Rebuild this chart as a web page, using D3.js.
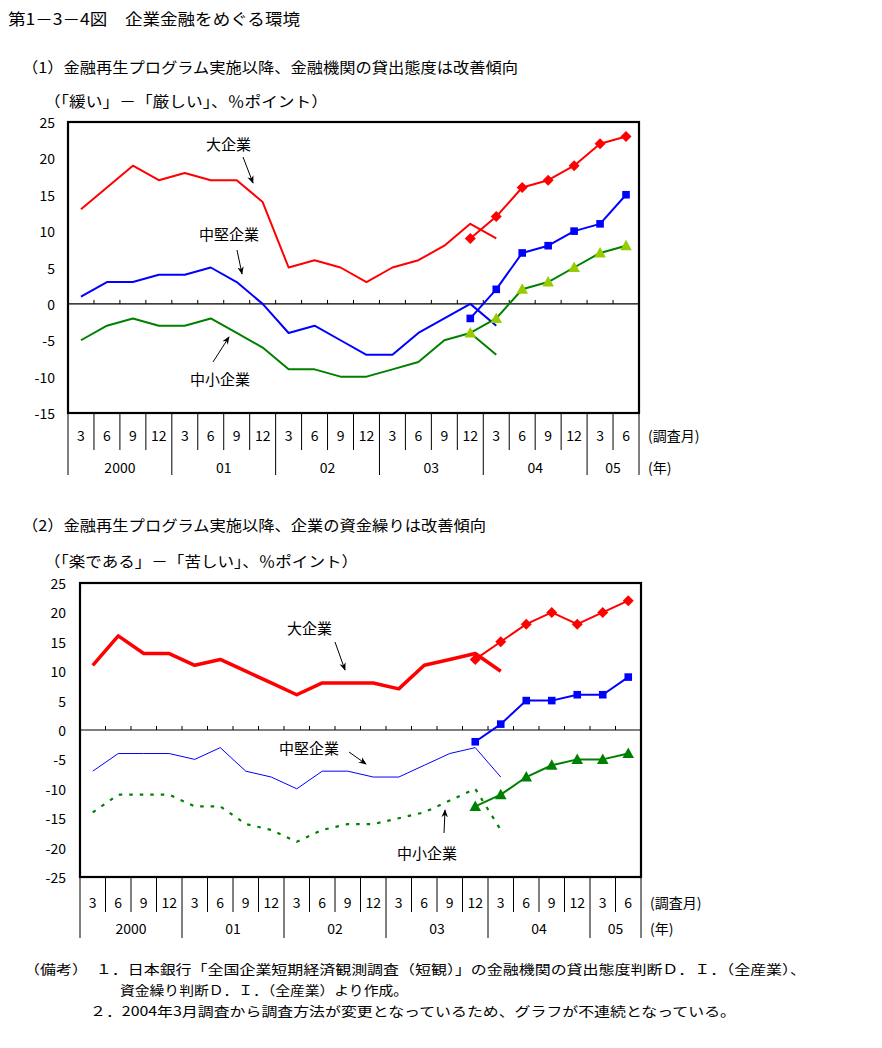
<!DOCTYPE html>
<html><head><meta charset="utf-8">
<script src="https://cdn.jsdelivr.net/npm/d3@7"></script>
<style>body{margin:0;background:#fff}</style>
</head><body>
<svg id="c" width="882" height="1048"></svg>
<script>
// ---------- data ----------
const months = ["3","6","9","12","3","6","9","12","3","6","9","12","3","6","9","12","3","6","9","12","3","6"];
const years = ["2000","01","02","03","04","05"];
const yearQuarters = [4,4,4,4,4,2];
const yTicksLending = [25,20,15,10,5,0,-5,-10,-15];
const yTicksFunding = [25,20,15,10,5,0,-5,-10,-15,-20,-25];
const N = null;
// (1) lending attitude DI
const lendLargeOld = [13,16,19,17,18,17,17,14,5,6,5,3,5,6,8,11,9,N,N,N,N,N];
const lendLargeNew = [N,N,N,N,N,N,N,N,N,N,N,N,N,N,N,9,12,16,17,19,22,23];
const lendMidOld   = [1,3,3,4,4,5,3,0,-4,-3,-5,-7,-7,-4,-2,0,-3,N,N,N,N,N];
const lendMidNew   = [N,N,N,N,N,N,N,N,N,N,N,N,N,N,N,-2,2,7,8,10,11,15];
const lendSmallOld = [-5,-3,-2,-3,-3,-2,-4,-6,-9,-9,-10,-10,-9,-8,-5,-4,-7,N,N,N,N,N];
const lendSmallNew = [N,N,N,N,N,N,N,N,N,N,N,N,N,N,N,-4,-2,2,3,5,7,8];
// (2) financial position DI
const fundLargeOld = [11,16,13,13,11,12,10,8,6,8,8,8,7,11,12,13,10,N,N,N,N,N];
const fundLargeNew = [N,N,N,N,N,N,N,N,N,N,N,N,N,N,N,12,15,18,20,18,20,22];
const fundMidOld   = [-7,-4,-4,-4,-5,-3,-7,-8,-10,-7,-7,-8,-8,-6,-4,-3,-8,N,N,N,N,N];
const fundMidNew   = [N,N,N,N,N,N,N,N,N,N,N,N,N,N,N,-2,1,5,5,6,6,9];
const fundSmallOld = [-14,-11,-11,-11,-13,-13,-16,-17,-19,-17,-16,-16,-15,-14,-12,-10,-17,N,N,N,N,N];
const fundSmallNew = [N,N,N,N,N,N,N,N,N,N,N,N,N,N,N,-13,-11,-8,-6,-5,-5,-4];

// ---------- drawing ----------
const svg = d3.select("#c");
const JP = '"Noto Sans CJK JP", sans-serif';
const NUM = '"Liberation Sans Narrow", "Noto Sans CJK JP", sans-serif';

svg.append("defs").append("marker")
  .attr("id","arr").attr("viewBox","0 0 10 10").attr("refX",9).attr("refY",5)
  .attr("markerWidth",8).attr("markerHeight",8).attr("markerUnits","userSpaceOnUse")
  .attr("orient","auto")
  .append("path").attr("d","M0,1 L10,5 L0,9 L3,5 Z").attr("fill","#000");

function text(x,y,s,size,opts={}) {
  const t = svg.append("text").attr("x",x).attr("y",y).text(s)
    .attr("font-family",opts.family||JP).attr("font-size",size).attr("fill","#000")
    .attr("dominant-baseline","central");
  if (opts.anchor) t.attr("text-anchor",opts.anchor);
  if (opts.len) t.attr("textLength",opts.len).attr("lengthAdjust","spacingAndGlyphs");
  return t;
}

const markerPaths = {
  diamond: "M0,-5.5L5.5,0L0,5.5L-5.5,0Z",
  square: "M-3.8,-3.8H3.8V3.8H-3.8Z",
  triangle: "M0,-6L5.8,4.5H-5.8Z"
};

function panel(cfg) {
  const x = d3.scaleBand().domain(d3.range(months.length)).range([cfg.left,cfg.right]).padding(0);
  const y = d3.scaleLinear().domain(cfg.domain).range([cfg.bottom,cfg.top]);
  const bw = x.bandwidth();
  const cx = i => x(i) + bw/2;
  const g = svg.append("g");

  // y tick labels
  cfg.ticks.forEach(v => text(cfg.labelX, y(v), String(v).replace("-","-"), 14,
    {anchor:"end", family:NUM}));

  // zero line & ticks
  g.append("line").attr("x1",cfg.left).attr("x2",cfg.right).attr("y1",y(0)).attr("y2",y(0))
    .attr("stroke","#000").attr("stroke-width",1.2);
  d3.range(1,months.length).forEach(i => {
    g.append("line").attr("x1",x(i)).attr("x2",x(i)).attr("y1",y(0)).attr("y2",y(0)-4)
      .attr("stroke","#000").attr("stroke-width",1);
  });

  // x table separators
  const yearStarts = [0];
  yearQuarters.forEach((q,k)=>yearStarts.push(yearStarts[k]+q));
  d3.range(0,months.length+1).forEach(i => {
    const xx = i===months.length ? cfg.right : x(i);
    const isYear = yearStarts.includes(i);
    g.append("line").attr("x1",xx).attr("x2",xx).attr("y1",cfg.bottom)
      .attr("y2", isYear ? cfg.yearSepEnd : cfg.monthSepEnd)
      .attr("stroke","#000").attr("stroke-width",1);
  });
  months.forEach((m,i) => text(cx(i), cfg.monthY, m, 14, {anchor:"middle", family:NUM}));
  years.forEach((yl,k) => {
    const a = x(yearStarts[k]);
    const b = yearStarts[k+1]===months.length ? cfg.right : x(yearStarts[k+1]);
    text((a+b)/2, cfg.yearY, yl, 14, {anchor:"middle", family:NUM});
  });
  text(cfg.right+9, cfg.monthY, "(調査月)", 14);
  text(cfg.right+9, cfg.yearY, "(年)", 14);

  // series
  cfg.series.forEach(s => {
    const pts = s.values.map((v,i)=>({i,v})).filter(d=>d.v!==null);
    const line = d3.line().x(d=>cx(d.i)).y(d=>y(d.v));
    const p = g.append("path").attr("d",line(pts)).attr("fill","none")
      .attr("stroke",s.color).attr("stroke-width",s.width).attr("stroke-linejoin","round");
    if (s.dash) p.attr("stroke-dasharray",s.dash);
    if (s.marker) {
      g.selectAll(null).data(pts).enter().append("path")
        .attr("d",markerPaths[s.marker])
        .attr("transform",d=>`translate(${cx(d.i)},${y(d.v)})`)
        .attr("fill",s.markerFill||s.color);
    }
  });

  // border
  g.append("rect").attr("x",cfg.left).attr("y",cfg.top).attr("width",cfg.right-cfg.left)
    .attr("height",cfg.bottom-cfg.top).attr("fill","none").attr("stroke","#000").attr("stroke-width",2.2);

  // annotations
  cfg.notes.forEach(n => {
    text(n.tx, n.ty, n.label, 15);
    g.append("line").attr("x1",n.a[0]).attr("y1",n.a[1]).attr("x2",n.b[0]).attr("y2",n.b[1])
      .attr("stroke","#000").attr("stroke-width",1).attr("marker-end","url(#arr)");
  });
}

// titles
text(8, 18, "第1－3－4図　企業金融をめぐる環境", 16, {len:292});
text(22, 66, "（1）金融再生プログラム実施以降、金融機関の貸出態度は改善傾向", 15, {len:496});
text(44, 100, "（「緩い」－「厳しい」、％ポイント）", 15, {len:284});
text(22, 524, "（2）金融再生プログラム実施以降、企業の資金繰りは改善傾向", 15, {len:464});
text(44, 560, "（「楽である」－「苦しい」、％ポイント）", 15, {len:314});

panel({
  left:68, right:639, top:122, bottom:413, domain:[-15,25], ticks:yTicksLending, labelX:55,
  monthY:435, yearY:467, monthSepEnd:450, yearSepEnd:475,
  series:[
    {values:lendLargeOld, color:"#ff0000", width:2},
    {values:lendMidOld, color:"#0000ff", width:2},
    {values:lendSmallOld, color:"#008000", width:2},
    {values:lendLargeNew, color:"#ff0000", width:2, marker:"diamond"},
    {values:lendMidNew, color:"#0000ff", width:2, marker:"square"},
    {values:lendSmallNew, color:"#008000", width:2, marker:"triangle", markerFill:"#99cc00"}
  ],
  notes:[
    {label:"大企業", tx:206, ty:143, a:[243,157], b:[253,183]},
    {label:"中堅企業", tx:199, ty:233, a:[237,250], b:[242,274]},
    {label:"中小企業", tx:190, ty:378, a:[213,362], b:[229,337]}
  ]
});

panel({
  left:80, right:641, top:583, bottom:877, domain:[-25,25], ticks:yTicksFunding, labelX:66,
  monthY:902, yearY:928, monthSepEnd:912, yearSepEnd:938,
  series:[
    {values:fundLargeOld, color:"#ff0000", width:3.5},
    {values:fundMidOld, color:"#0000ff", width:1},
    {values:fundSmallOld, color:"#008000", width:2.2, dash:"3.5,7"},
    {values:fundLargeNew, color:"#ff0000", width:2, marker:"diamond"},
    {values:fundMidNew, color:"#0000ff", width:2, marker:"square"},
    {values:fundSmallNew, color:"#008000", width:2, marker:"triangle"}
  ],
  notes:[
    {label:"大企業", tx:287, ty:627, a:[335,642], b:[345,670]},
    {label:"中堅企業", tx:279, ty:747, a:[349,752], b:[366,764]},
    {label:"中小企業", tx:397, ty:852, a:[444,833], b:[445,810]}
  ]
});

// notes
text(24, 968, "（備考）　１．日本銀行「全国企業短期経済観測調査（短観）」の金融機関の貸出態度判断Ｄ．Ｉ．（全産業）、", 13, {len:782});
text(120, 989, "資金繰り判断Ｄ．Ｉ．（全産業）より作成。", 13, {len:288});
text(90, 1010, "２．2004年3月調査から調査方法が変更となっているため、グラフが不連続となっている。", 13, {len:646});
</script>
</body></html>
